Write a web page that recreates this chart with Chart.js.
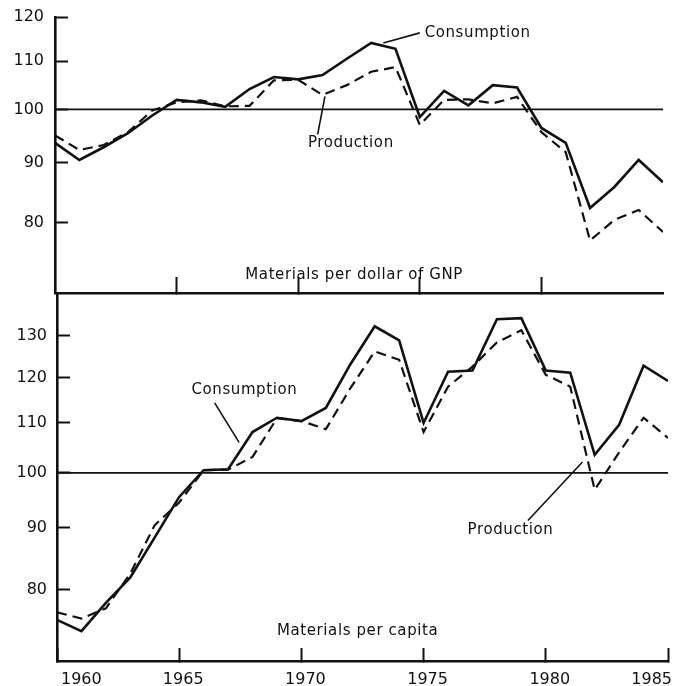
<!DOCTYPE html>
<html>
<head>
  <title>Materials consumption and production</title>
  <script src="https://cdn.jsdelivr.net/npm/chart.js"></script>
  <style>
    body { margin: 0; background: #fff; }
    #wrap { position: relative; width: 675px; height: 686px; }
    canvas { position: absolute; left: 0; }
  </style>
</head>
<body>
  <div id="wrap">
    <canvas id="gnpChart" width="675" height="300" style="top:0"></canvas>
    <canvas id="capChart" width="675" height="406" style="top:280px"></canvas>
  </div>

  <script>
    const years = [1960, 1961, 1962, 1963, 1964, 1965, 1966, 1967, 1968, 1969, 1970, 1971, 1972,
                   1973, 1974, 1975, 1976, 1977, 1978, 1979, 1980, 1981, 1982, 1983, 1984, 1985];

    // materials per dollar of GNP
    const gnpConsumption = [93.6, 90.5, 92.8, 95.4, 98.8, 101.9, 101.4, 100.5, 104.1, 106.6, 106.1, 107.0, 110.5,
                            114.0, 112.7, 98.5, 103.7, 100.8, 104.9, 104.4, 96.4, 93.6, 82.3, 85.8, 90.5, 86.6];
    const gnpProduction = [95.0, 92.3, 93.2, 95.6, 99.8, 101.4, 101.8, 100.6, 100.7, 105.9, 106.0, 102.9, 104.9,
                           107.7, 108.7, 97.0, 101.9, 102.0, 101.2, 102.5, 95.6, 91.9, 77.2, 80.4, 82.0, 78.5];

    // materials per capita
    const capConsumption = [75.5, 73.9, 78.0, 81.9, 88.4, 95.5, 100.5, 100.7, 108.1, 111.1, 110.4, 113.2, 123.0,
                            132.3, 128.8, 110.0, 121.3, 121.6, 134.1, 134.4, 121.6, 121.1, 103.5, 109.6, 122.7, 119.2];
    const capProduction = [76.6, 75.7, 77.2, 82.5, 90.5, 94.5, 100.5, 100.6, 103.1, 111.0, 110.4, 108.7, 117.5,
                           126.1, 124.1, 108.1, 117.9, 122.5, 128.3, 131.3, 120.6, 117.9, 96.8, 104.0, 111.1, 106.9];

    // index base line
    const baseYears = [1960, 1985];
    const baseLevel = [100, 100];

    const gnpTicks = [80, 90, 100, 110, 120];
    const capTicks = [80, 90, 100, 110, 120, 130];
    const gnpYearTicks = [1965, 1970, 1975, 1980];
    const capYearTicks = [1960, 1965, 1970, 1975, 1980, 1985];

    const gnpNotes = [
      { text: "Consumption", at: [1975.2, 116.3], from: [1973.5, 114.0], to: [1975.0, 116.3] },
      { text: "Production", at: [1970.4, 93.6], from: [1970.8, 95.2], to: [1971.1, 102.6] },
      { text: "Materials per dollar of GNP", at: [1972.3, 72.1], center: true }
    ];
    const capNotes = [
      { text: "Consumption", at: [1965.5, 117.2], from: [1966.45, 114.3], to: [1967.45, 106.0] },
      { text: "Production", at: [1976.8, 89.6], from: [1979.27, 91.3], to: [1981.5, 102.1] },
      { text: "Materials per capita", at: [1972.3, 73.9], center: true }
    ];

    const ink = "#111";
    const family = '"DejaVu Sans", sans-serif';

    const pts = (xs, ys) => xs.map((x, i) => ({ x: x, y: ys[i] }));

    const notesPlugin = {
      id: "notes",
      afterDatasetsDraw(chart, args, opts) {
        const ctx = chart.ctx, xs = chart.scales.x, ys = chart.scales.y;
        ctx.save();
        ctx.strokeStyle = ink;
        ctx.fillStyle = ink;
        ctx.lineWidth = 1.6;
        ctx.font = "15px " + family;
        ctx.letterSpacing = "0.6px";
        ctx.textBaseline = "middle";
        opts.items.forEach(n => {
          if (n.from) {
            ctx.beginPath();
            ctx.moveTo(xs.getPixelForValue(n.from[0]), ys.getPixelForValue(n.from[1]));
            ctx.lineTo(xs.getPixelForValue(n.to[0]), ys.getPixelForValue(n.to[1]));
            ctx.stroke();
          }
          ctx.textAlign = n.center ? "center" : "left";
          ctx.fillText(n.text, xs.getPixelForValue(n.at[0]), ys.getPixelForValue(n.at[1]));
        });
        ctx.restore();
      }
    };

    function makeChart(id, cons, prod, cfg) {
      return new Chart(document.getElementById(id).getContext("2d"), {
        type: "line",
        data: {
          datasets: [
            { data: pts(baseYears, baseLevel), borderColor: ink, borderWidth: 1.6, pointRadius: 0 },
            { data: pts(years, prod), borderColor: ink, borderWidth: 2.2, borderDash: [10, 6], pointRadius: 0 },
            { data: pts(years, cons), borderColor: ink, borderWidth: 2.6, pointRadius: 0 }
          ]
        },
        options: {
          responsive: false,
          animation: false,
          events: [],
          layout: { padding: cfg.padding },
          elements: { line: { tension: 0, fill: false } },
          plugins: { legend: { display: false }, tooltip: { enabled: false }, notes: { items: cfg.notes } },
          scales: {
            x: {
              type: "linear", min: 1960, max: 1985,
              afterBuildTicks: s => { s.ticks = cfg.yearTicks.map(v => ({ value: v })); },
              afterFit: s => { s.height = cfg.xHeight; s.paddingLeft = 0; s.paddingRight = 0; },
              ticks: {
                display: cfg.yearLabels, autoSkip: false, maxRotation: 0, align: "inner", labelOffset: 4,
                padding: 22, color: ink, font: { family: family, size: 16 }, callback: v => String(v)
              },
              grid: { drawOnChartArea: false, tickLength: cfg.xTick, tickWidth: 2, tickColor: ink },
              border: { color: ink, width: 2.6 }
            },
            y: {
              type: "logarithmic", min: cfg.min, max: cfg.max,
              afterBuildTicks: s => { s.ticks = cfg.ticks.map(v => ({ value: v })); },
              afterFit: s => { s.width = cfg.yWidth; s.paddingTop = 0; s.paddingBottom = 0; },
              ticks: { autoSkip: false, padding: cfg.yPad, color: ink, font: { family: family, size: 16 }, callback: v => String(v) },
              grid: { drawOnChartArea: false, tickLength: -13, tickWidth: 2, tickColor: ink },
              border: { color: ink, width: 2.6 }
            }
          }
        },
        plugins: [notesPlugin]
      });
    }

    makeChart("gnpChart", gnpConsumption, gnpProduction, {
      padding: { top: 17, right: 12, left: 0, bottom: 0 },
      min: 69.6, max: 120, ticks: gnpTicks, yearTicks: gnpYearTicks, yearLabels: false,
      xHeight: 7, xTick: -16, yWidth: 55, yPad: 24, notes: gnpNotes
    });

    makeChart("capChart", capConsumption, capProduction, {
      padding: { top: 13, right: 7, left: 0, bottom: 0 },
      min: 69.8, max: 141, ticks: capTicks, yearTicks: capYearTicks, yearLabels: true,
      xHeight: 25, xTick: -13, yWidth: 57, yPad: 23, notes: capNotes
    });
  </script>
</body>
</html>
